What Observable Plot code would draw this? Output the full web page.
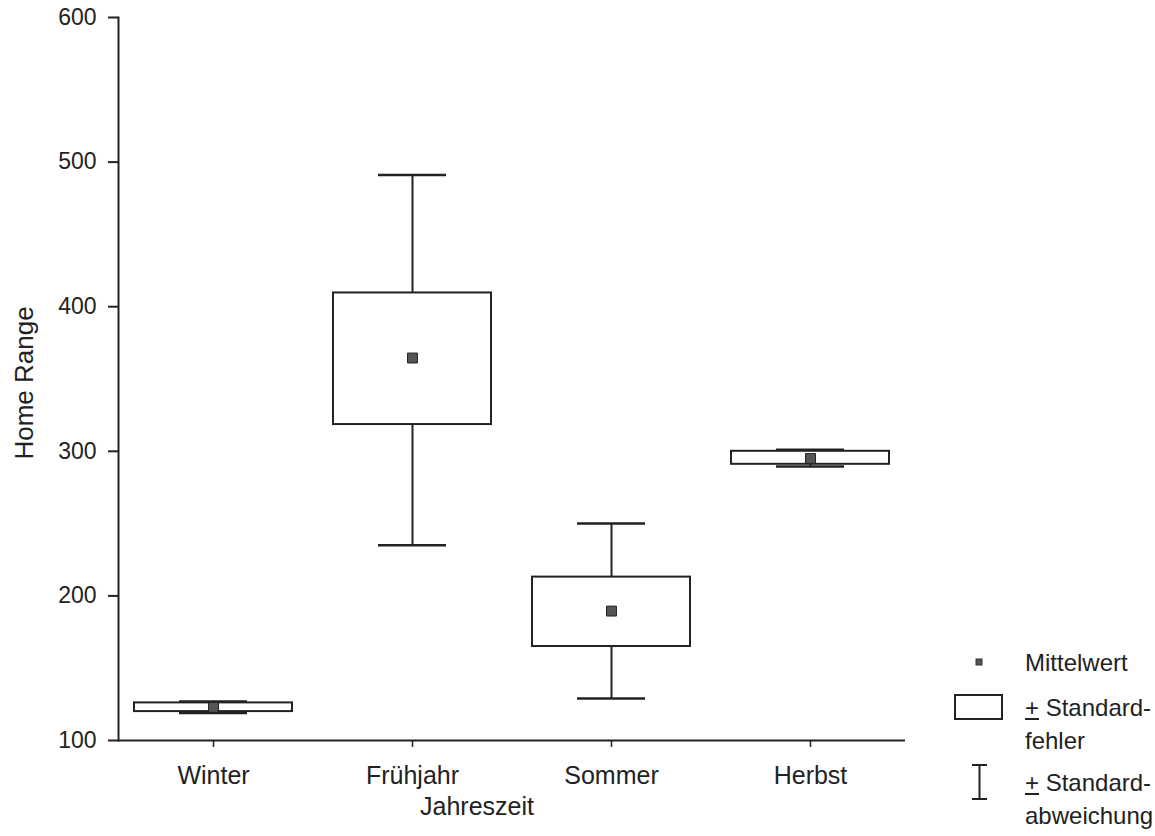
<!DOCTYPE html>
<html>
<head>
<meta charset="utf-8">
<script src="https://cdn.jsdelivr.net/npm/d3@7"></script>
<script src="https://cdn.jsdelivr.net/npm/@observablehq/plot@0.6"></script>
<style>
  html, body { margin: 0; padding: 0; background: #fff; }
  #wrap { position: relative; width: 1155px; height: 836px; font-family: "Liberation Sans", Arial, sans-serif; color: #222; }
  #legend { position: absolute; left: 950px; top: 640px; font-size: 24px; line-height: 33px; }
  .item { position: absolute; left: 0; width: 205px; }
  .item svg { position: absolute; left: 0; }
  .item .txt { position: absolute; left: 75px; white-space: nowrap; }
</style>
</head>
<body>
<div id="wrap">
  <div id="chart"></div>
  <div id="legend">
    <div class="item" style="top:6px">
      <svg width="50" height="33" style="top:0"><rect x="26" y="13" width="6" height="6" fill="#555" stroke="#333" stroke-width="1"/></svg>
      <div class="txt" style="top:0">Mittelwert</div>
    </div>
    <div class="item" style="top:51px">
      <svg width="60" height="33" style="top:0"><rect x="5" y="4" width="47" height="24" fill="#fff" stroke="#222" stroke-width="2"/></svg>
      <div class="txt" style="top:0"><span style="text-decoration:underline">+</span> Standard-<br>fehler</div>
    </div>
    <div class="item" style="top:126px">
      <svg width="50" height="40" style="top:-4px"><path d="M22,3H37M29.5,3V37M22,37H37" stroke="#222" stroke-width="2" fill="none"/></svg>
      <div class="txt" style="top:0"><span style="text-decoration:underline">+</span> Standard-<br>abweichung</div>
    </div>
  </div>
</div>
<script>
const seasons = ["Winter", "Frühjahr", "Sommer", "Herbst"];
const means   = [123, 364.5, 189.5, 295];
const seLow   = [120, 318.5, 165, 291];
const seHigh  = [126, 409.5, 213, 300];
const sdLow   = [119, 235, 129, 289.5];
const sdHigh  = [127, 491, 250, 301];
const yTicks  = [100, 200, 300, 400, 500, 600];
const xTitle  = "Jahreszeit";
const yTitle  = "Home Range";

const data = seasons.map((s, i) => ({
  season: s, mean: means[i], seLow: seLow[i], seHigh: seHigh[i], sdLow: sdLow[i], sdHigh: sdHigh[i]
}));

const ink = "#222";
const W = 1155, H = 836, mL = 118, mR = 250, mT = 17, mB = 96;
const frameW = W - mL - mR;
const tickLen = 10;

const chart = Plot.plot({
  width: W,
  height: H,
  marginLeft: mL,
  marginRight: mR,
  marginTop: mT,
  marginBottom: mB,
  style: {fontSize: "23px", fontFamily: "Liberation Sans, Arial, sans-serif", color: ink, background: "white"},
  x: {type: "band", domain: seasons, paddingInner: 0.206, paddingOuter: 0.08},
  y: {domain: [100, 600]},
  marks: [
    Plot.axisY({ticks: yTicks, tickSize: 0, tickPadding: 22, fontSize: 23, label: null, fill: ink}),
    Plot.tickY(yTicks, {y: d => d, insetRight: frameW - tickLen, dx: -tickLen, stroke: ink, strokeWidth: 2}),
    Plot.axisX({tickSize: 7, tickPadding: 19, fontSize: 25, label: null, stroke: ink, strokeWidth: 1.5}),
    Plot.frame({anchor: "left", stroke: ink, strokeWidth: 2}),
    Plot.ruleY([100], {stroke: ink, strokeWidth: 2}),
    Plot.text([yTitle], {text: d => d, frameAnchor: "left", rotate: -90, dx: -94, dy: 4, fontSize: 26, textAnchor: "middle", lineAnchor: "middle", fill: ink}),
    Plot.text([xTitle], {text: d => d, frameAnchor: "bottom", dx: -35, dy: 66, fontSize: 25, textAnchor: "middle", lineAnchor: "middle", fill: ink}),
    Plot.ruleX(data, {x: "season", y1: "sdLow", y2: "sdHigh", stroke: ink, strokeWidth: 2}),
    Plot.tickY(data, {x: "season", y: "sdLow", stroke: ink, strokeWidth: 2.5, insetLeft: 45, insetRight: 45}),
    Plot.tickY(data, {x: "season", y: "sdHigh", stroke: ink, strokeWidth: 2.5, insetLeft: 45, insetRight: 45}),
    Plot.barY(data, {x: "season", y1: "seLow", y2: "seHigh", fill: "white", stroke: ink, strokeWidth: 2}),
    Plot.dot(data, {x: "season", y: "mean", symbol: "square", r: 5.6, fill: "#555", stroke: ink, strokeWidth: 1})
  ]
});
document.getElementById("chart").appendChild(chart);
</script>
</body>
</html>
